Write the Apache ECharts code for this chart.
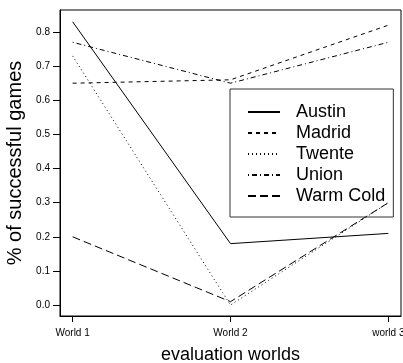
<!DOCTYPE html>
<html><head><meta charset="utf-8">
<script src="https://cdn.jsdelivr.net/npm/echarts@6/dist/echarts.min.js"></script>
<style>html,body{margin:0;padding:0;background:#fff}#c{width:403px;height:363px}</style>
</head><body><div id="c"></div>
<script>
const categories = ["World 1", "World 2", "world 3"];
const xPositions = [1, 2, 3];
const austin = [0.83, 0.18, 0.21];
const madrid = [0.65, 0.66, 0.82];
const twente = [0.73, 0.0, 0.30];
const union = [0.77, 0.65, 0.77];
const warmCold = [0.20, 0.01, 0.30];
const yTicks = [0, 0.1, 0.2, 0.3, 0.4, 0.5, 0.6, 0.7, 0.8];

const FONT = '"Liberation Sans", Arial, Helvetica, sans-serif';
function mk(name, vals, dash) {
  return {
    name, type: 'line', symbol: 'none', silent: true,
    data: vals.map((v, i) => [xPositions[i], v]),
    lineStyle: { color: '#000', width: 1, type: dash },
    itemStyle: { color: '#000' }
  };
}
const chart = echarts.init(document.getElementById('c'), null, { renderer: 'canvas' });
chart.setOption({
  animation: false,
  backgroundColor: '#fff',
  textStyle: { fontFamily: FONT },
  grid: { left: 60, right: 2, top: 10, bottom: 47, outerBoundsMode: 'none', containLabel: false,
    show: true, borderColor: '#000', borderWidth: 1, backgroundColor: 'rgba(0,0,0,0)' },
  xAxis: {
    type: 'value', min: 0.92, max: 3.08,
    name: 'evaluation worlds', nameLocation: 'middle', nameGap: 30,
    nameTextStyle: { fontSize: 18, color: '#000', fontFamily: FONT },
    splitLine: { show: false },
    axisLine: { show: true, onZero: false, lineStyle: { color: '#000', width: 1 } },
    axisTick: { show: true, inside: false, length: 6, lineStyle: { color: '#000' }, customValues: xPositions },
    axisLabel: { fontSize: 10, color: '#000', margin: 12, customValues: xPositions,
      formatter: v => categories[xPositions.indexOf(Math.round(v))] || '' }
  },
  yAxis: {
    type: 'value', min: -0.032, max: 0.8645,
    name: '% of successful games', nameLocation: 'middle', nameGap: 24, nameRotate: 90,
    nameTextStyle: { fontSize: 20, color: '#000', fontFamily: FONT },
    splitLine: { show: false },
    axisLine: { show: true, onZero: false, lineStyle: { color: '#000', width: 1 } },
    axisTick: { show: true, inside: false, length: 7, lineStyle: { color: '#000' }, customValues: yTicks },
    axisLabel: { fontSize: 10, color: '#000', margin: 10, customValues: yTicks, formatter: v => v.toFixed(1) }
  },
  legend: {
    orient: 'vertical', left: 230, top: 89,
    itemWidth: 32, itemHeight: 14, itemGap: 3,
    borderColor: '#333', borderWidth: 1, padding: [14, 8, 12, 17],
    itemStyle: { color: 'rgba(0,0,0,0)', borderColor: 'rgba(0,0,0,0)', borderWidth: 0 },
    textStyle: { fontSize: 18, color: '#000', fontFamily: FONT, padding: [0, 0, 0, 11] },
    data: ['Austin', 'Madrid', 'Twente', 'Union', 'Warm Cold']
  },
  series: [
    mk('Austin', austin, 'solid'),
    mk('Madrid', madrid, [4, 4]),
    mk('Twente', twente, [1, 3]),
    mk('Union', union, [1, 3, 5, 3]),
    mk('Warm Cold', warmCold, [8, 4])
  ]
});
</script></body></html>
